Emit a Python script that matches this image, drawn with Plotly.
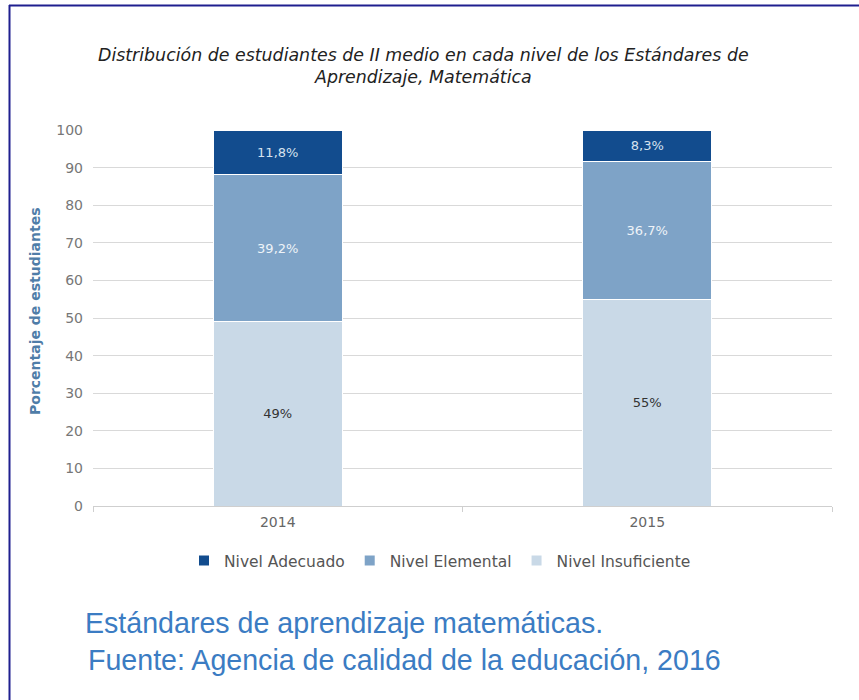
import plotly.graph_objects as go

years = ["2014", "2015"]
insuficiente = [49, 55]
elemental = [39.2, 36.7]
adecuado = [11.8, 8.3]
series_names = ["Nivel Insuficiente", "Nivel Elemental", "Nivel Adecuado"]
yticks = [0, 10, 20, 30, 40, 50, 60, 70, 80, 90, 100]

colors = {"Nivel Adecuado": "#124c8e", "Nivel Elemental": "#7ea3c7", "Nivel Insuficiente": "#c9d9e7"}
text_colors = {"Nivel Adecuado": "#d6e2ef", "Nivel Elemental": "#eef3f8", "Nivel Insuficiente": "#333333"}


def fmt(v):
    if float(v).is_integer():
        return f"{int(v)}%"
    return f"{v:.1f}".replace(".", ",") + "%"


W, H = 859, 700
L, R, T, B = 93, 832, 130, 506


def px(x):
    return (x - L) / (R - L)


def py(y):
    return (B - y) / (B - T)


fig = go.Figure()
for name, vals in zip(series_names, [insuficiente, elemental, adecuado]):
    fig.add_trace(go.Bar(
        x=years, y=vals, name=name,
        marker=dict(color=colors[name], line=dict(color="white", width=1)),
        text=[fmt(v) for v in vals],
        textposition="inside", insidetextanchor="middle", textangle=0,
        textfont=dict(family="DejaVu Sans", size=13, color=text_colors[name]),
        width=0.35, hoverinfo="skip",
    ))

title_font = dict(family="DejaVu Sans", size=17.4, color="#222222", style="italic")

fig.update_layout(
    width=W, height=H, autosize=False,
    barmode="stack",
    margin=dict(l=L, r=W - R, t=T, b=H - B),
    paper_bgcolor="white", plot_bgcolor="white",
    showlegend=True,
    legend=dict(orientation="h", traceorder="reversed", x=px(440), y=py(561),
                xanchor="center", yanchor="middle",
                font=dict(family="DejaVu Sans", size=15.5, color="#555555"),
                itemsizing="constant"),
    xaxis=dict(type="category", range=[-0.5, 1.5], showline=True, linecolor="#cfcfcf",
               linewidth=1, ticks="outside", tickson="boundaries", ticklen=5,
               tickcolor="#cfcfcf", showgrid=False, ticklabelstandoff=3,
               tickfont=dict(family="DejaVu Sans", size=14, color="#666666")),
    yaxis=dict(range=[0, 100], tickvals=yticks, showgrid=True, gridcolor="#d9d9d9",
               gridwidth=1, zeroline=False, showline=False, ticks="",
               tickfont=dict(family="DejaVu Sans", size=14, color="#777777"),
               ticklabelstandoff=9),
    annotations=[
        dict(text="Distribución de estudiantes de II medio en cada nivel de los Estándares de",
             xref="paper", yref="paper", x=px(423), y=py(55), xanchor="center", yanchor="middle",
             showarrow=False, font=title_font),
        dict(text="Aprendizaje, Matemática",
             xref="paper", yref="paper", x=px(423), y=py(77), xanchor="center", yanchor="middle",
             showarrow=False, font=title_font),
        dict(text="Porcentaje de estudiantes", textangle=-90,
             xref="paper", yref="paper", x=px(35), y=py(312), xanchor="center", yanchor="middle",
             showarrow=False, font=dict(family="DejaVu Sans", size=14, color="#4f7da8", weight="bold")),
        dict(text="Estándares de aprendizaje matemáticas.",
             xref="paper", yref="paper", x=px(83), y=py(623), xanchor="left", yanchor="middle",
             showarrow=False, font=dict(family="Liberation Sans", size=28.6, color="#3b7cc3")),
        dict(text="Fuente: Agencia de calidad de la educación, 2016",
             xref="paper", yref="paper", x=px(86), y=py(660), xanchor="left", yanchor="middle",
             showarrow=False, font=dict(family="Liberation Sans", size=28.6, color="#3b7cc3")),
    ],
    shapes=[
        dict(type="line", xref="paper", yref="paper", x0=px(9.5), x1=px(9.5), y0=py(5), y1=py(700),
             line=dict(color="#1f1f8f", width=2)),
        dict(type="line", xref="paper", yref="paper", x0=px(9), x1=px(859), y0=py(5.5), y1=py(5.5),
             line=dict(color="#1f1f8f", width=2)),
    ],
)

fig.write_html("out.html", config={"displayModeBar": False},
               post_script="document.body.style.margin='0';document.body.style.overflow='hidden';")
